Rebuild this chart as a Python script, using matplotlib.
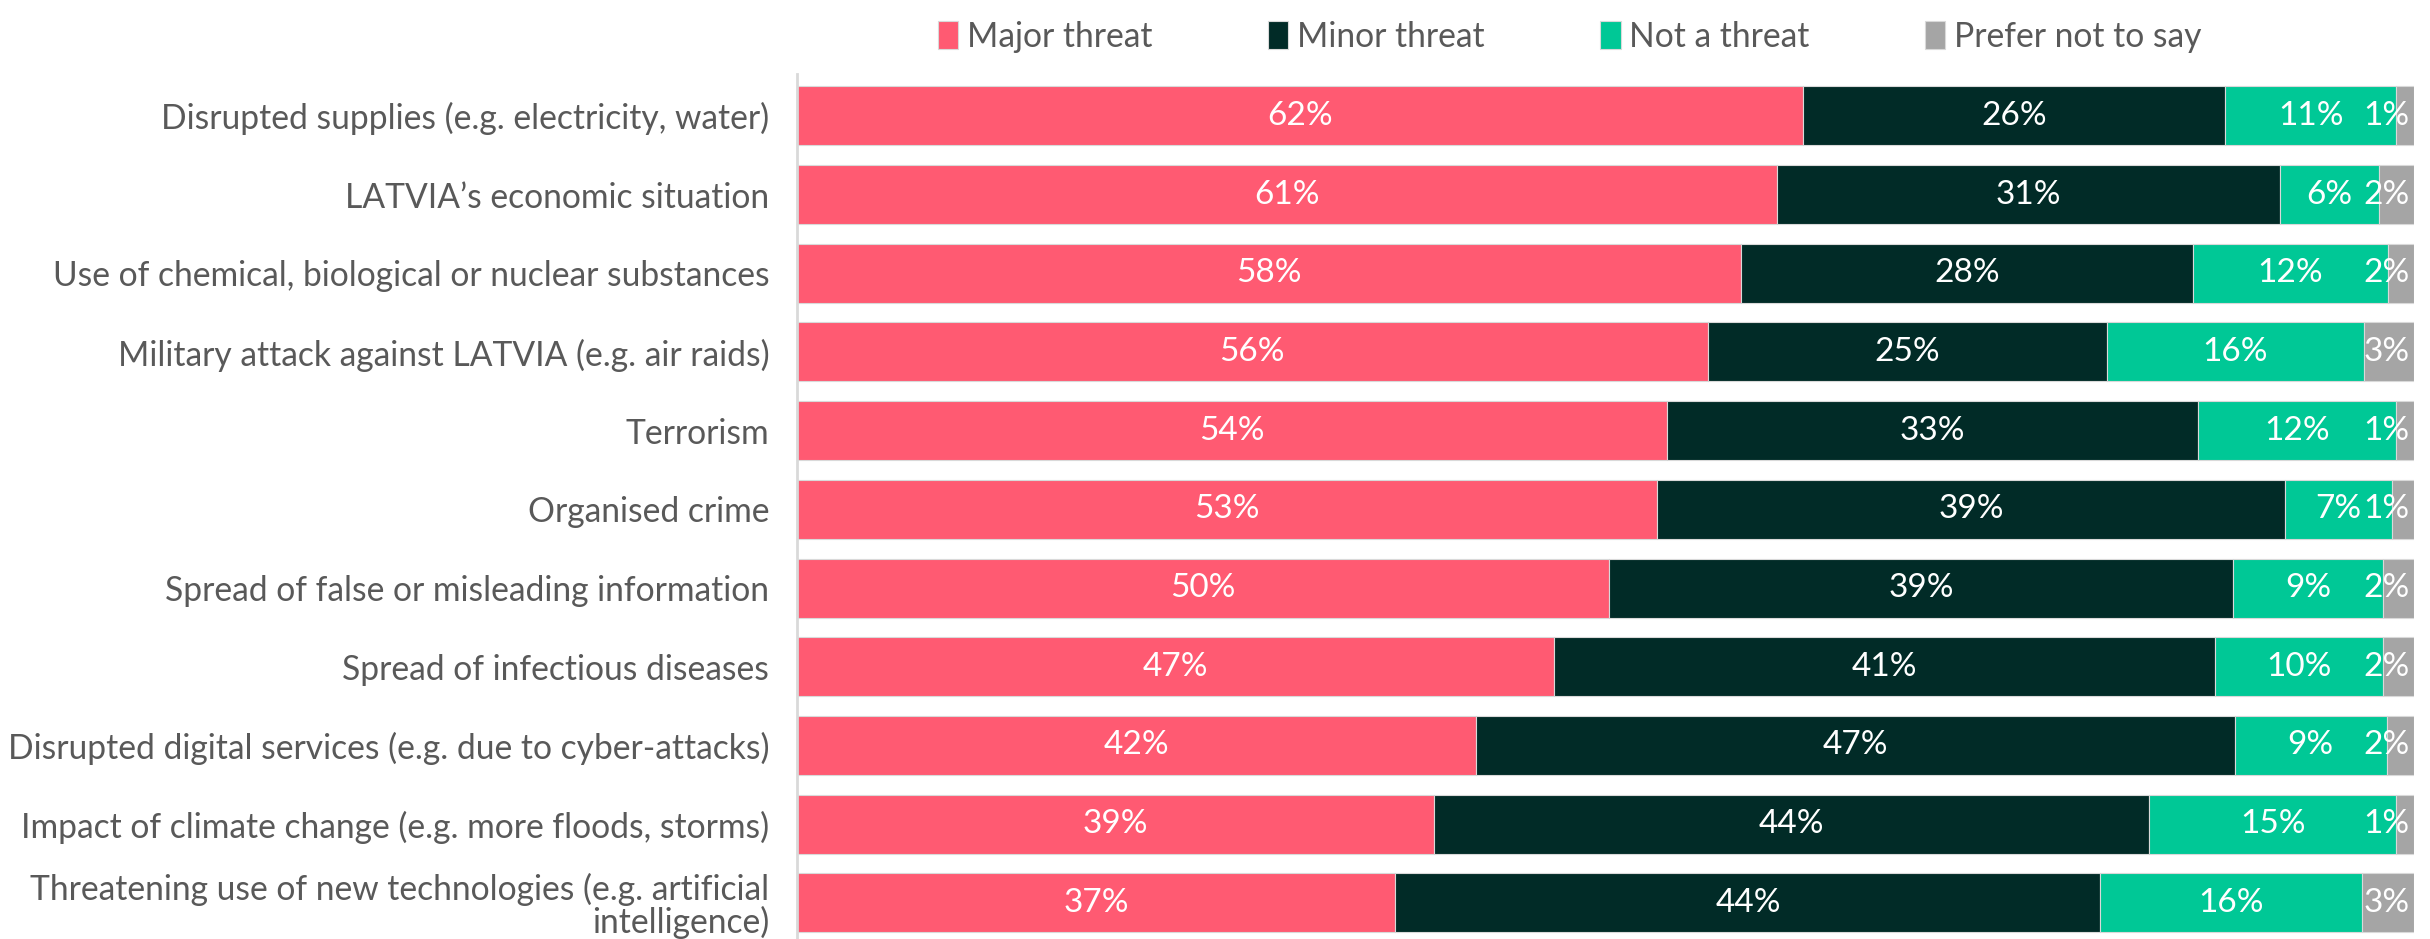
import numpy as np
import matplotlib
matplotlib.use("Agg")
import matplotlib.pyplot as plt
from matplotlib import font_manager

categories = [
    "Disrupted supplies (e.g. electricity, water)",
    "LATVIA\u2019s economic situation",
    "Use of chemical, biological or nuclear substances",
    "Military attack against LATVIA (e.g. air raids)",
    "Terrorism",
    "Organised crime",
    "Spread of false or misleading information",
    "Spread of infectious diseases",
    "Disrupted digital services (e.g. due to cyber-attacks)",
    "Impact of climate change (e.g. more floods, storms)",
    "Threatening use of new technologies (e.g. artificial\nintelligence)",
]
major = [62.2, 60.6, 58.4, 56.3, 53.8, 53.2, 50.2, 46.8, 42.0, 39.4, 37.0]
minor = [26.1, 31.1, 27.9, 24.7, 32.8, 38.8, 38.6, 40.9, 46.9, 44.2, 43.6]
not_threat = [10.6, 6.1, 12.1, 15.9, 12.3, 6.6, 9.3, 10.4, 9.4, 15.3, 16.2]
prefer_not = [1.1, 2.2, 1.6, 3.1, 1.1, 1.4, 1.9, 1.9, 1.7, 1.1, 3.2]

series_names = ["Major threat", "Minor threat", "Not a threat", "Prefer not to say"]
colors = ["#FF5A72", "#012B27", "#00C896", "#A5A5A5"]

names = {f.name for f in font_manager.fontManager.ttflist}
fam = "Liberation Sans Narrow" if "Liberation Sans Narrow" in names else "Lato"
plt.rcParams['font.family'] = [fam, 'DejaVu Sans']

fig = plt.figure(figsize=(24.3, 9.39), dpi=100)
ax = fig.add_axes([0.328, 0.0, 0.6655, 0.921])

y = np.arange(len(categories))
data = [major, minor, not_threat, prefer_not]
left = np.zeros(len(categories))
for k, vals in enumerate(data):
    vals = np.array(vals)
    ax.barh(y, vals, left=left, height=0.75, color=colors[k],
            edgecolor="#D9D9D9", linewidth=0.8, label=series_names[k])
    for i, v in enumerate(vals):
        if k == 3:
            ax.text(99.7, y[i], "%d%%" % round(v), ha="right", va="center",
                    color="white", fontsize=24)
        else:
            ax.text(left[i] + v / 2, y[i], "%d%%" % round(v), ha="center",
                    va="center", color="white", fontsize=24)
    left += vals

ax.set_xlim(0, 100)
ax.set_ylim(10.46, -0.53)
ax.set_yticks(y)
ax.set_yticklabels(categories, fontsize=24.2, color="#595959", linespacing=1.0)
ax.tick_params(axis="y", length=0, pad=20)
ax.set_xticks([])
for s in ["top", "right", "bottom"]:
    ax.spines[s].set_visible(False)
ax.spines["left"].set_color("#D9D9D9")
ax.spines["left"].set_linewidth(2)

fig.legend(loc="upper center", bbox_to_anchor=(0.646, 1.01), ncol=4,
           frameon=False, fontsize=24.2, labelcolor="#595959",
           handlelength=0.6, handleheight=0.9, handletextpad=0.25,
           columnspacing=3.45)

fig.savefig("out.png", dpi=100)
